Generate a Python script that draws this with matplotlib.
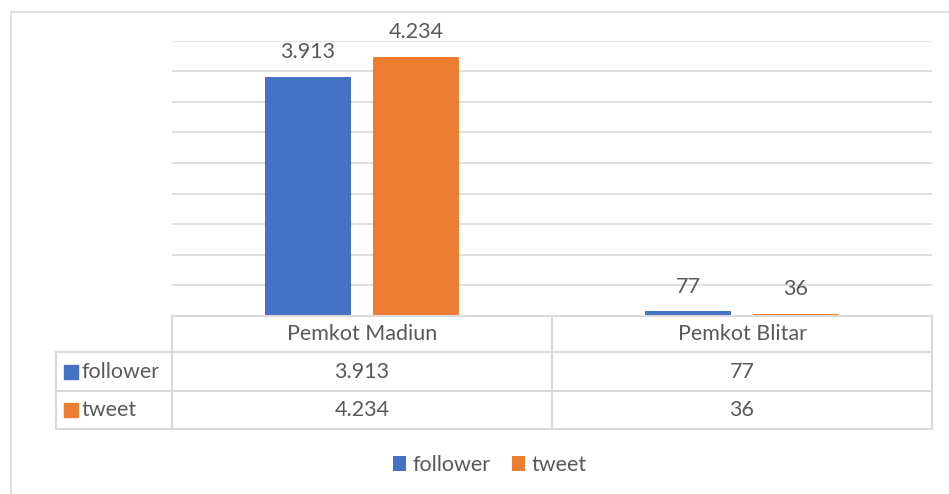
import numpy as np
import matplotlib.pyplot as plt
import matplotlib.transforms as mtransforms
from matplotlib.lines import Line2D
from matplotlib.patches import Rectangle

# data (Indonesian format: "3.913" = 3913)
categories = ['Pemkot Madiun', 'Pemkot Blitar']
series_names = ['follower', 'tweet']
follower = [3913, 77]
tweet = [4234, 36]
colors = ['#4472C4', '#ED7D31']

W, H = 949, 494
TXT = '#595959'
GRID = '#D9D9D9'
FONT = 'Lato'
FS = 15.5


def fmt(v):
    return f'{v:,}'.replace(',', '.')


def fx(x):
    return x / W


def fy(y):
    return 1 - y / H


plt.rcParams['font.family'] = [FONT, 'DejaVu Sans']

fig = plt.figure(figsize=(W / 100, H / 100), dpi=100)

# outer chart border
fig.add_artist(Rectangle((fx(10.7), fy(520)), fx(960), (520 - 11.7) / H,
                         transform=fig.transFigure, fill=False,
                         edgecolor=GRID, lw=1.2))

ax = fig.add_axes([fx(172), fy(316), (932 - 172) / W, (316 - 40.7) / H])
x = np.arange(len(categories))
w = 0.224
off = 0.142
for i, vals in enumerate([follower, tweet]):
    bars = ax.bar(x + (i * 2 - 1) * off, vals, w, color=colors[i],
                  label=series_names[i], zorder=3)
    ax.bar_label(bars, labels=[fmt(v) for v in vals], padding=10.5,
                 fontsize=FS, color=TXT)

ax.set_xlim(-0.5, 1.5)
ax.set_ylim(0, 4500)
ax.set_yticks(np.arange(0, 4501, 500))
ax.yaxis.grid(True, color=GRID, lw=1.2)
ax.tick_params(left=False, bottom=False, labelleft=False, labelbottom=False)
for s in ax.spines.values():
    s.set_visible(False)

# data table under the plot
bt = mtransforms.blended_transform_factory(ax.transData, fig.transFigure)
row_y = [316, 352, 391, 429]


def hline(x0, x1, y):
    fig.add_artist(Line2D([fx(x0), fx(x1)], [fy(y), fy(y)],
                          transform=fig.transFigure, color=GRID, lw=1.5))


def vline(xd, y0, y1):
    fig.add_artist(Line2D([xd, xd], [fy(y0), fy(y1)], transform=bt,
                          color=GRID, lw=1.5))


hline(172, 932, 316)
for y in row_y[1:]:
    hline(56, 932, y)
for xd in [-0.5, 0.5, 1.5]:
    vline(xd, 316, 429)
fig.add_artist(Line2D([fx(56), fx(56)], [fy(352), fy(429)],
                      transform=fig.transFigure, color=GRID, lw=1.5))

for j, cat in enumerate(categories):
    fig.text(j, fy((row_y[0] + row_y[1]) / 2), cat, transform=bt,
             ha='center', va='center', fontsize=FS, color=TXT)
for i, vals in enumerate([follower, tweet]):
    yc = fy((row_y[i + 1] + row_y[i + 2]) / 2)
    for j, v in enumerate(vals):
        fig.text(j, yc, fmt(v), transform=bt, ha='center', va='center',
                 fontsize=FS, color=TXT)
    fig.add_artist(Rectangle((fx(64), yc - 7 / H), 14 / W, 14 / H,
                             transform=fig.transFigure, color=colors[i]))
    fig.text(fx(82), yc, series_names[i], ha='left', va='center',
             fontsize=FS, color=TXT)

fig.legend(loc='center', bbox_to_anchor=(fx(490), fy(465)), ncol=2,
           frameon=False, fontsize=FS, labelcolor=TXT,
           handlelength=0.6, handleheight=0.7, handletextpad=0.3,
           columnspacing=1.0)

fig.savefig('out.png', dpi=100)
